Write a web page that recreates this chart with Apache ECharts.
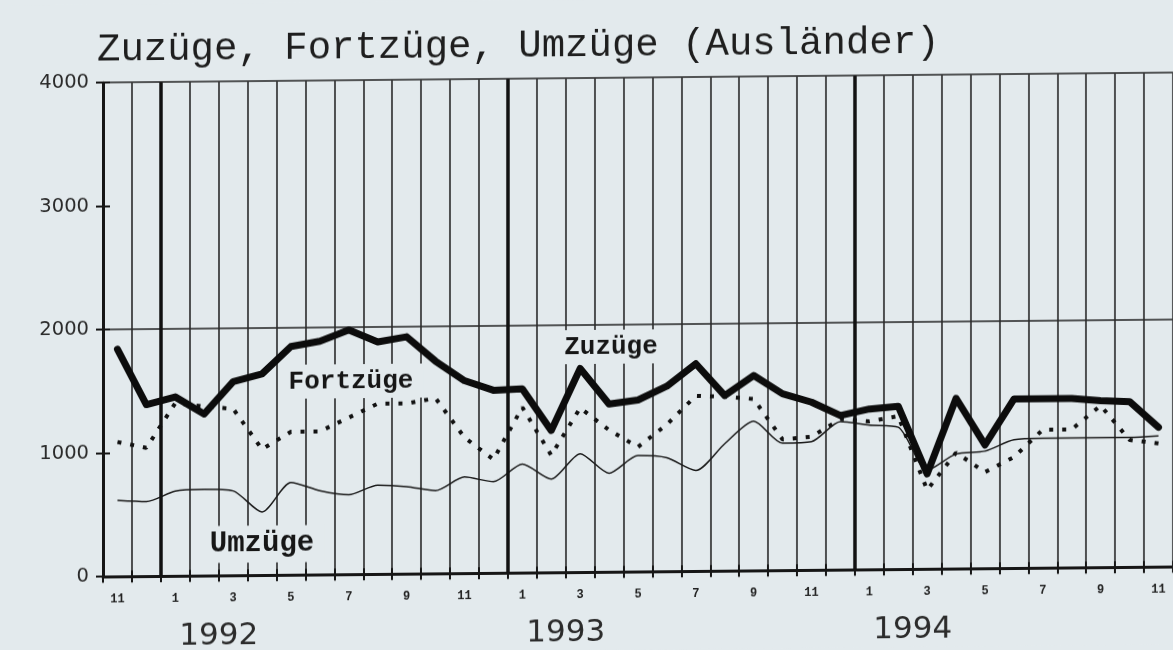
<!DOCTYPE html>
<html><head><meta charset="utf-8">
<script src="https://cdn.jsdelivr.net/npm/echarts@6/dist/echarts.min.js"></script>
<style>
html,body{margin:0;padding:0;background:#e3eaed;overflow:hidden}
#c{width:1173px;height:650px;transform:skewY(-0.535deg);transform-origin:586.5px 325px;}
</style>
</head><body><div id="c"></div>
<script>
// Months Nov 1991 .. Nov 1994 (category labels)
const months = ['11','12',
  '1','2','3','4','5','6','7','8','9','10','11','12',
  '1','2','3','4','5','6','7','8','9','10','11','12',
  '1','2','3','4','5','6','7','8','9','10','11'];
const years = ['1992','1993','1994'];
const yTicks = [0, 1000, 2000, 3000, 4000];

const zuzuege = [1840,1390,1450,1310,1570,1630,1850,1890,1980,1880,1920,1720,
  1560,1480,1490,1150,1650,1360,1390,1500,1680,1420,1580,1430,1360,1250,
  1300,1320,770,1380,1000,1370,1370,1370,1350,1340,1130];
const fortzuege = [1090,1040,1400,1370,1350,1020,1160,1160,1270,1380,1380,1420,
  1100,920,1340,950,1330,1150,1010,1190,1420,1410,1390,1060,1080,1220,
  1200,1240,640,940,780,900,1120,1120,1310,1030,1000];
const umzuege = [617,605,688,700,685,512,748,680,645,720,707,672,
  780,740,880,757,960,800,940,920,815,1030,1210,1030,1040,1200,
  1170,1150,800,930,950,1040,1050,1050,1050,1050,1060];

const janIdx = months.map((m,i)=> m==='1' ? i : -1).filter(i=>i>=0);
const yearLabelPos = janIdx.map(i=>i+2);

const chart = echarts.init(document.getElementById('c'), null, {renderer:'canvas'});
const ink = '#161616';
const bg = '#e3eaed';
const annStyle = (text, size) => ({text, fontFamily:'Liberation Mono', fontWeight:'bold', fontSize:size, fill:ink,
  backgroundColor:bg, padding:[4,10], align:'center', verticalAlign:'middle'});

chart.setOption({
  backgroundColor:bg,
  animation:false,
  title:{
    text:'Zuzüge, Fortzüge, Umzüge (Ausländer)',
    left:97, top:26, padding:0,
    textStyle:{fontFamily:'Liberation Mono', fontWeight:'normal', fontSize:39, color:'#1e1e1e'}
  },
  grid:{left:103, top:78.2, width:1073, height:494, containLabel:false},
  xAxis:[
    {type:'category', data:months, boundaryGap:true, position:'bottom',
     axisLine:{show:true, lineStyle:{color:ink, width:3}},
     axisTick:{show:true, interval:0, inside:false, length:6, lineStyle:{color:ink, width:2}},
     axisLabel:{interval:1, margin:17, fontFamily:'Liberation Mono', fontWeight:'bold', fontSize:12, color:'#222'},
     splitLine:{show:true, interval:0, lineStyle:{color:'#2a2a2a', width:1.6}}
    },
    {type:'value', min:0, max:months.length, interval:1, position:'bottom',
     axisLine:{show:false},
     axisTick:{show:true, inside:true, length:6, lineStyle:{color:ink, width:2}},
     axisLabel:{show:true, margin:45, customValues:yearLabelPos,
       fontFamily:'DejaVu Sans', fontSize:31, color:'#2b2b2b',
       formatter:(v)=>{ const k = yearLabelPos.indexOf(Math.round(v)); return (k>=0 && Math.abs(v-yearLabelPos[k])<1e-6) ? years[k] : ''; }},
     splitLine:{show:false}
    }
  ],
  yAxis:[
    {type:'value', min:yTicks[0], max:yTicks[yTicks.length-1], interval:yTicks[1]-yTicks[0], position:'left',
     axisLine:{show:true, lineStyle:{color:ink, width:3}},
     axisTick:{show:true, inside:false, length:7, lineStyle:{color:ink, width:2}},
     axisLabel:{margin:14, fontFamily:'DejaVu Sans', fontSize:19.5, color:'#2b2b2b', formatter:(v)=>String(v)},
     splitLine:{show:false}
    },
    {type:'value', min:yTicks[0], max:yTicks[yTicks.length-1], interval:yTicks[1]-yTicks[0], position:'left', offset:0,
     axisLine:{show:false},
     axisTick:{show:true, inside:true, length:7, lineStyle:{color:ink, width:2}},
     axisLabel:{show:false}, splitLine:{show:false}
    },
    {type:'value', min:yTicks[0], max:yTicks[yTicks.length-1], interval:2000, position:'left', offset:0,
     axisLine:{show:false}, axisTick:{show:false}, axisLabel:{show:false},
     splitLine:{show:true, lineStyle:{color:'#222', width:1.6}}
    }
  ],
  graphic:[
    {type:'text', x:611, y:347, z:1, style:annStyle('Zuzüge', 26)},
    {type:'text', x:351, y:379, z:1, style:annStyle('Fortzüge', 26)},
    {type:'text', x:262, y:541, z:1, style:annStyle('Umzüge', 29)}
  ],
  series:[
    {name:'Jahresgrenzen', type:'line', xAxisIndex:1, yAxisIndex:0, data:[], silent:true,
     markLine:{silent:true, symbol:'none', label:{show:false},
       lineStyle:{color:'#111', width:3.5, type:'solid'},
       data: janIdx.map(i=>({xAxis:i}))}},
    {name:'Umzüge', type:'line', data:umzuege, symbol:'none', smooth:0.25, z:3,
     lineStyle:{color:'#1a1a1a', width:1.5}},
    {name:'Fortzüge', type:'line', data:fortzuege, symbol:'none', z:4,
     lineStyle:{color:'#111', width:4, type:[4,9], cap:'butt'}},
    {name:'Zuzüge', type:'line', data:zuzuege, symbol:'none', z:5,
     lineStyle:{color:'#0c0c0c', width:7, join:'round', cap:'round'}}
  ]
});
</script></body></html>
